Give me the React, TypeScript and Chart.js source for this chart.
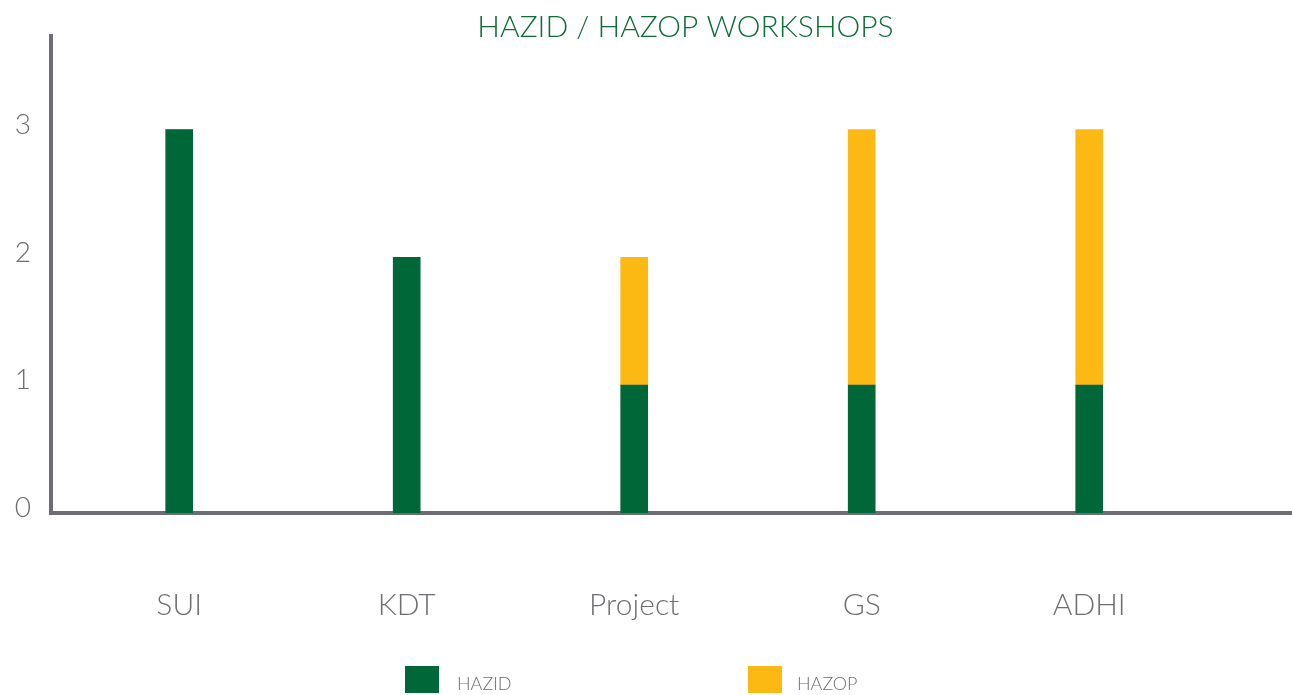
import React, { useEffect, useRef } from "react";
import { Chart, registerables } from "chart.js";

Chart.register(...registerables);

const categories = ["SUI", "KDT", "Project", "GS", "ADHI"];
const hazidValues = [3, 2, 1, 1, 1];
const hazopValues = [0, 0, 1, 2, 2];
const yTicks = [0, 1, 2, 3];

const GREEN = "#006838";
const YELLOW = "#FDB913";
const GREY = "#6d6e71";
const FONT = "Lato, 'Open Sans', sans-serif";

const titleShift = {
  id: "titleShift",
  afterLayout(chart: any) {
    const t = chart.titleBlock;
    if (t) {
      t.left += 40;
      t.right += 40;
    }
  },
};

export default function App() {
  const ref = useRef<HTMLCanvasElement | null>(null);

  useEffect(() => {
    if (!ref.current) return;
    const chart = new Chart(ref.current, {
      type: "bar",
      data: {
        datasets: [
          {
            label: "HAZID",
            data: hazidValues.map((v, i) => ({ x: i, y: v })),
            backgroundColor: GREEN,
            barThickness: 27,
          },
          {
            label: "HAZOP",
            data: hazopValues.map((v, i) => ({ x: i, y: v })),
            backgroundColor: YELLOW,
            barThickness: 27,
          },
        ],
      },
      plugins: [titleShift],
      options: {
        animation: false,
        responsive: false,
        layout: { padding: { left: 0, right: 1, top: 0, bottom: 0 } },
        plugins: {
          legend: { display: false },
          tooltip: { enabled: false },
          title: {
            display: true,
            text: "HAZID / HAZOP WORKSHOPS",
            color: "#0b6e36",
            font: { family: FONT, size: 30, weight: 300 },
            padding: { top: 9, bottom: -9 },
          },
        },
        scales: {
          x: {
            type: "linear",
            stacked: true,
            offset: false,
            min: -0.5635,
            max: 4.887,
            grid: { display: false, drawTicks: false, offset: false },
            border: { display: true, color: GREY, width: 4 },
            afterBuildTicks: (s: any) => {
              s.ticks = categories.map((_, i) => ({ value: i }));
            },
            afterFit: (s: any) => {
              s.height = 182;
            },
            ticks: {
              autoSkip: false,
              maxRotation: 0,
              padding: 74,
              color: GREY,
              font: { family: FONT, size: 30, weight: 300 },
              callback: (v: any) => categories[v as number] ?? "",
            },
          },
          y: {
            type: "linear",
            stacked: true,
            min: 0,
            max: 3.732,
            grid: { display: false, drawTicks: false },
            border: { display: true, color: GREY, width: 4 },
            afterBuildTicks: (s: any) => {
              s.ticks = yTicks.map((v) => ({ value: v }));
            },
            afterFit: (s: any) => {
              s.width = 51;
            },
            ticks: {
              padding: 20,
              color: GREY,
              font: { family: FONT, size: 28, weight: 300, lineHeight: 0.35 },
              callback: (v: any) => [String(v), ""],
            },
          },
        },
      },
    });
    return () => chart.destroy();
  }, []);

  const legendText: React.CSSProperties = {
    position: "absolute",
    fontFamily: FONT,
    fontWeight: 300,
    fontSize: 18,
    color: GREY,
    lineHeight: "18px",
    top: 674,
  };

  return (
    <div style={{ position: "fixed", left: 0, top: 0, width: 1292, height: 695, background: "#fff", overflow: "hidden" }}>
      <canvas ref={ref} width={1292} height={695} style={{ position: "absolute", left: 0, top: 0 }} />
      <div style={{ position: "absolute", left: 405, top: 666, width: 34, height: 27, background: GREEN }} />
      <div style={{ ...legendText, left: 457 }}>HAZID</div>
      <div style={{ position: "absolute", left: 748, top: 666, width: 34, height: 27, background: YELLOW }} />
      <div style={{ ...legendText, left: 797 }}>HAZOP</div>
    </div>
  );
}
